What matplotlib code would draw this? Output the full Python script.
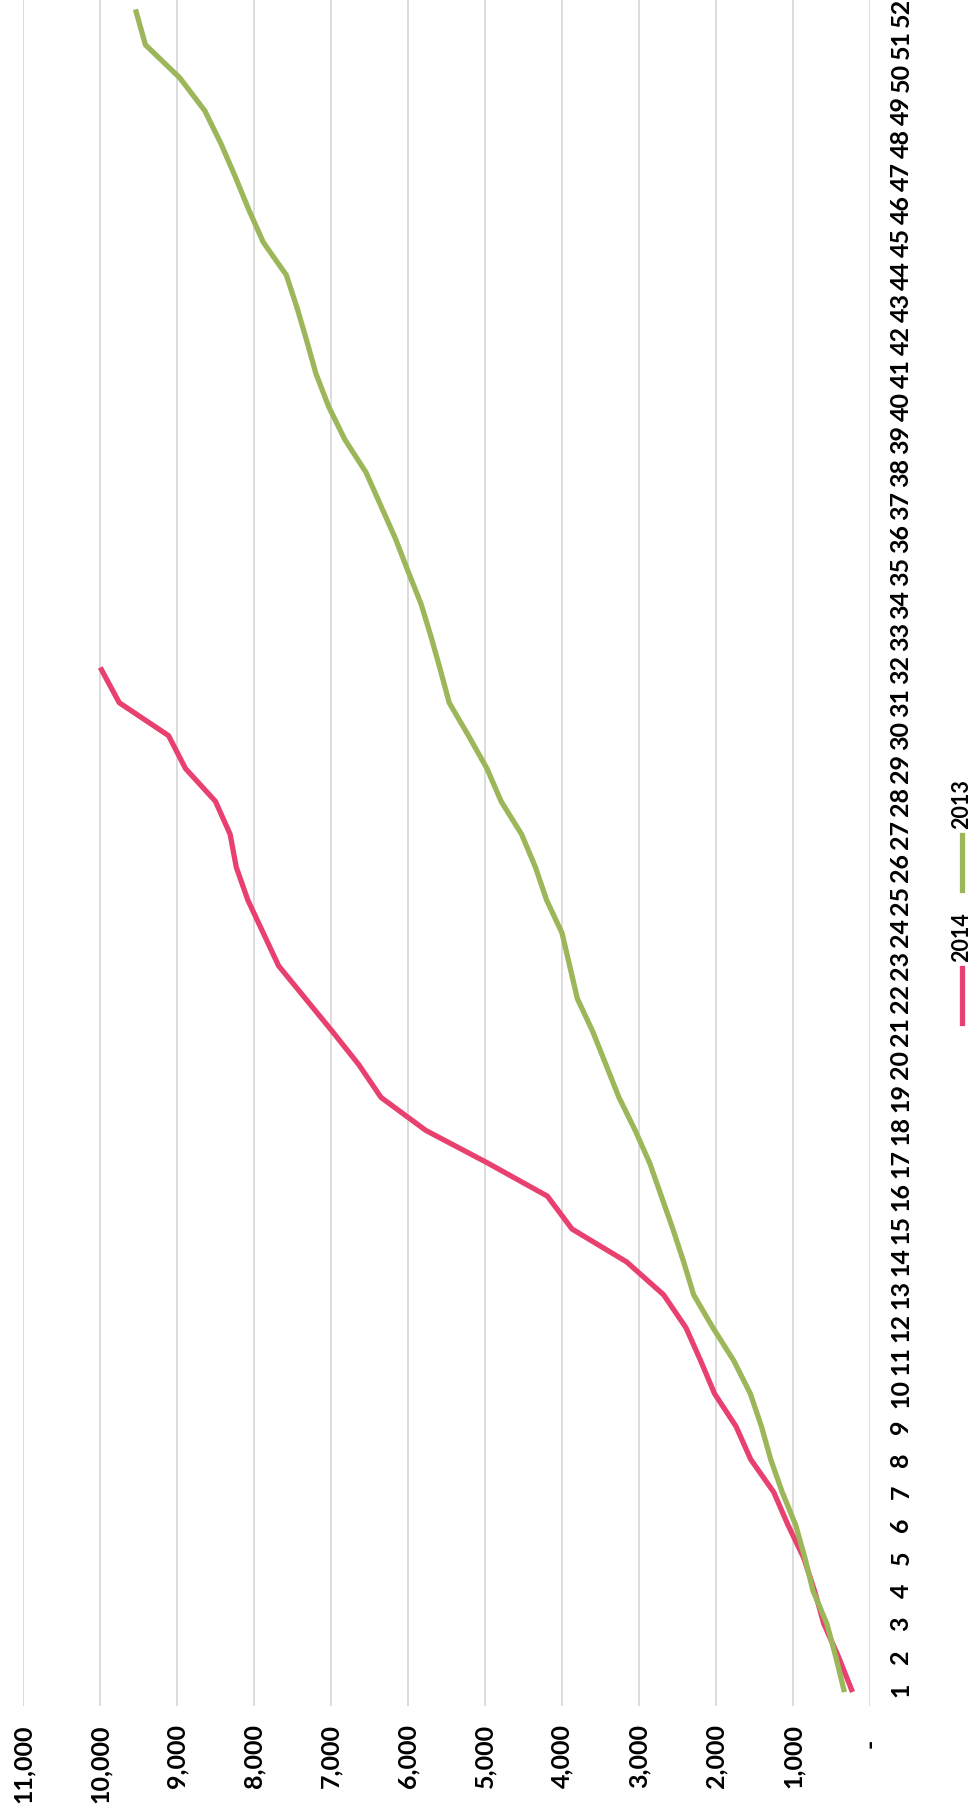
import matplotlib
matplotlib.use("Agg")
import matplotlib.pyplot as plt
import matplotlib.transforms as mtransforms
from matplotlib.lines import Line2D

# cumulative weekly totals, week 1..52
weeks = list(range(1, 53))
cum_2014 = [240, 410, 600, 720, 860, 1065, 1250, 1550, 1740, 2020,
            2200, 2390, 2680, 3160, 3870, 4190, 4960, 5770, 6350, 6640,
            6980, 7330, 7680, 7880, 8080, 8230, 8310, 8500, 8890, 9110,
            9750, 9980]
cum_2013 = [340, 445, 560, 740, 845, 965, 1140, 1290, 1410, 1555,
            1770, 2040, 2290, 2420, 2560, 2710, 2860, 3050, 3260, 3430,
            3600, 3800, 3900, 4000, 4200, 4345, 4525, 4790, 4975, 5215,
            5465, 5580, 5700, 5830, 6000, 6165, 6355, 6545, 6820, 7030,
            7195, 7315, 7440, 7580, 7880, 8070, 8245, 8430, 8640, 8965,
            9410, 9530]

value_ticks = list(range(0, 11001, 1000))
value_labels = ["-"] + [f"{v:,}" for v in value_ticks[1:]]
week_labels = [str(w) for w in weeks]

series_names = ["2014", "2013"]
series_colors = ["#E8416F", "#9CB65A"]

plt.rcParams["font.family"] = ["Lato", "DejaVu Sans"]
plt.rcParams["font.weight"] = "bold"

W, H = 977, 1819
fig = plt.figure(figsize=(W / 100, H / 100), dpi=100)

# the chart is laid out sideways: values run right-to-left, weeks bottom-to-top
ax_left, ax_right = 23, 870
ax_top, ax_bottom = -4.5, 1706
ax = fig.add_axes([ax_left / W, 1 - ax_bottom / H,
                   (ax_right - ax_left) / W, (ax_bottom - ax_top) / H])

ax.plot(cum_2014, weeks[:len(cum_2014)], color=series_colors[0], lw=3.8,
        solid_joinstyle="round", zorder=3)
ax.plot(cum_2013, weeks, color=series_colors[1], lw=3.8,
        solid_joinstyle="round", zorder=4)

ax.set_xlim(11000, 0)
ax.set_ylim(0.5, 52.5)

ax.set_xticks(value_ticks)
ax.set_xticklabels(value_labels, rotation=90, va="top", ha="center",
                   fontsize=18, fontweight="bold")
ax.set_yticks(weeks)
ax.yaxis.tick_right()
ax.set_yticklabels(week_labels, rotation=90, va="center", ha="left",
                   fontsize=18, fontweight="bold")
ax.tick_params(axis="both", length=0)
ax.tick_params(axis="x", pad=13)
ax.tick_params(axis="y", pad=14)
ax.grid(axis="x", color="#D2D2D2", lw=1.1)
ax.grid(axis="y", visible=False)
for spine in ax.spines.values():
    spine.set_visible(False)

# the zero label sits a little further out than the others
zero_lbl = ax.get_xticklabels()[0]
zero_lbl.set_transform(zero_lbl.get_transform()
                       + mtransforms.ScaledTranslation(0, -0.15, fig.dpi_scale_trans))

# legend, drawn sideways below the week labels
leg_x = 962 / W
legend_items = [(series_names[0], series_colors[0], (968, 1023), 937),
                (series_names[1], series_colors[1], (835, 890), 804)]
for name, color, (y0, y1), ty in legend_items:
    fig.add_artist(Line2D([leg_x, leg_x], [1 - y0 / H, 1 - y1 / H],
                          transform=fig.transFigure, color=color, lw=3.8))
    fig.text(leg_x, 1 - ty / H, name, rotation=90, ha="center", va="center",
             fontsize=15.5, fontweight="bold")

fig.savefig("out.png", dpi=100, facecolor="white")
